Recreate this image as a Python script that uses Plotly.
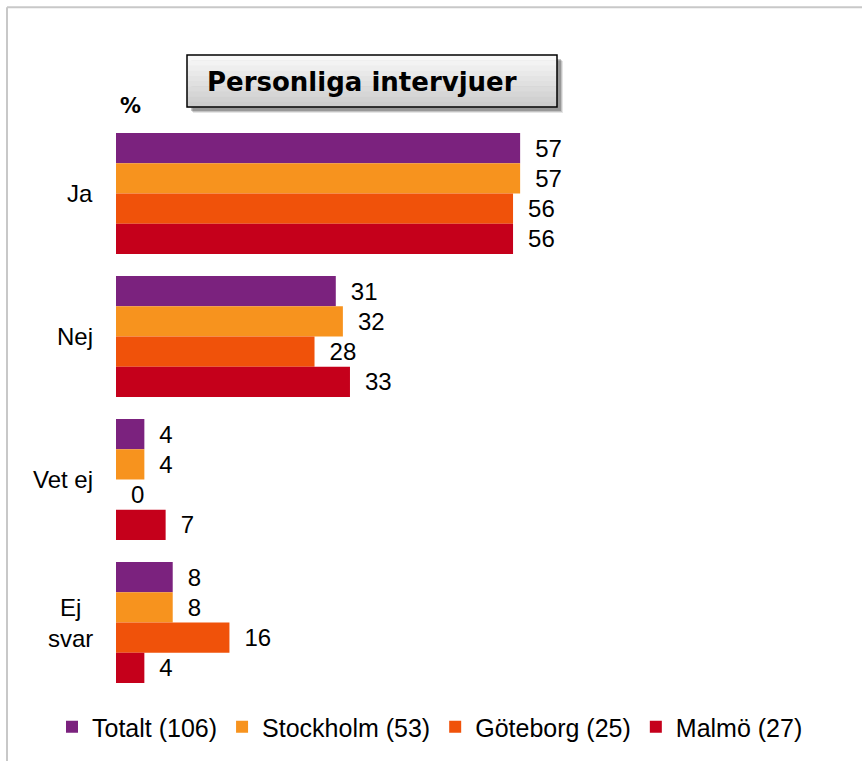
import plotly.graph_objects as go

# ---- data ----
categories = ["Ja", "Nej", "Vet ej", "Ej svar"]
category_labels = ["Ja", "Nej", "Vet ej", "Ej<br>svar"]
series_names = ["Totalt (106)", "Stockholm (53)", "Göteborg (25)", "Malmö (27)"]
totalt = [57, 31, 4, 8]
stockholm = [57, 32, 4, 8]
goteborg = [56, 28, 0, 16]
malmo = [56, 33, 7, 4]
series_values = [totalt, stockholm, goteborg, malmo]
colors = ["#7B227E", "#F7931E", "#F0520A", "#C5001B"]
title_text = "Personliga intervjuer"
unit_label = "%"

# ---- geometry ----
W, H = 862, 761
ML, MT, MB = 116, 122, 66
PW = 709
MR = W - ML - PW
PH = H - MT - MB


def px(x):
    return (x - ML) / PW


def py(y):
    return 1 - (y - MT) / PH


FONT = "Liberation Sans, Arial, sans-serif"

fig = go.Figure()
for name, vals, col in zip(series_names, series_values, colors):
    fig.add_trace(go.Bar(
        y=categories, x=vals, name=name, orientation="h",
        marker=dict(color=col, line=dict(width=0)),
        texttemplate="\u2002%{x}", textposition="outside",
        textfont=dict(size=24, color="black", family=FONT),
        constraintext="none", cliponaxis=False,
        hoverinfo="skip",
    ))

shapes = []
# outer frame (top + left edges)
shapes.append(dict(type="line", xref="paper", yref="paper",
                   x0=px(7), x1=px(W + 5), y0=py(7), y1=py(7),
                   line=dict(color="#C8C8C8", width=2)))
shapes.append(dict(type="line", xref="paper", yref="paper",
                   x0=px(7), x1=px(7), y0=py(7), y1=py(H + 5),
                   line=dict(color="#C8C8C8", width=2)))
# title box shadow
for off, a in [(6, 0.10), (5, 0.15), (4, 0.22)]:
    shapes.append(dict(type="rect", xref="paper", yref="paper",
                       x0=px(187 + off), x1=px(557 + off), y0=py(55 + off), y1=py(107 + off),
                       fillcolor=f"rgba(0,0,0,{a})", line=dict(width=0)))
# title box gradient
nb = 10
top, bot = 55, 107
for i in range(nb):
    t = i / (nb - 1)
    c = int(248 - t * (248 - 205))
    y0 = top + (bot - top) * i / nb
    y1 = top + (bot - top) * (i + 1) / nb
    shapes.append(dict(type="rect", xref="paper", yref="paper",
                       x0=px(187), x1=px(557), y0=py(y0), y1=py(y1 + 0.5),
                       fillcolor=f"rgb({c},{c},{c})", line=dict(width=0)))
shapes.append(dict(type="rect", xref="paper", yref="paper",
                   x0=px(187), x1=px(557), y0=py(55), y1=py(107),
                   line=dict(color="black", width=1.5)))

annotations = [
    dict(text=f"<b>{title_text}</b>", xref="paper", yref="paper",
         x=px(362), y=py(82), xanchor="center", yanchor="middle", showarrow=False,
         font=dict(family="DejaVu Sans, Verdana, sans-serif", size=26, color="black")),
    dict(text=f"<b>{unit_label}</b>", xref="paper", yref="paper",
         x=px(130), y=py(106), xanchor="center", yanchor="middle", showarrow=False,
         font=dict(family="DejaVu Sans, Verdana, sans-serif", size=21, color="black")),
]
for cat, lab in zip(categories, category_labels):
    annotations.append(dict(text=lab, xref="paper", yref="y", x=px(95), y=cat,
                            xanchor="right", yanchor="middle", align="center",
                            showarrow=False,
                            font=dict(family=FONT, size=24, color="black")))

fig.update_layout(
    width=W, height=H,
    margin=dict(l=ML, r=MR, t=MT, b=MB, pad=0),
    paper_bgcolor="white", plot_bgcolor="white",
    barmode="group", bargap=0.154, bargroupgap=0,
    xaxis=dict(range=[0, 100], visible=False, fixedrange=True),
    yaxis=dict(categoryorder="array", categoryarray=categories, autorange="reversed",
               showticklabels=False, showgrid=False, zeroline=False, showline=False,
               ticks="", fixedrange=True),
    shapes=shapes,
    annotations=annotations,
    showlegend=True,
    legend=dict(orientation="h", xref="paper", yref="paper",
                x=px(52), y=py(727), xanchor="left", yanchor="middle",
                font=dict(family=FONT, size=25, color="black"),
                itemwidth=30, tracegroupgap=0, traceorder="normal",
                bgcolor="rgba(0,0,0,0)"),
    font=dict(family=FONT, color="black"),
)

fig.write_html(
    "out.html",
    config={"displayModeBar": False},
    post_script="document.body.style.margin='0';document.body.style.overflow='hidden';",
)
